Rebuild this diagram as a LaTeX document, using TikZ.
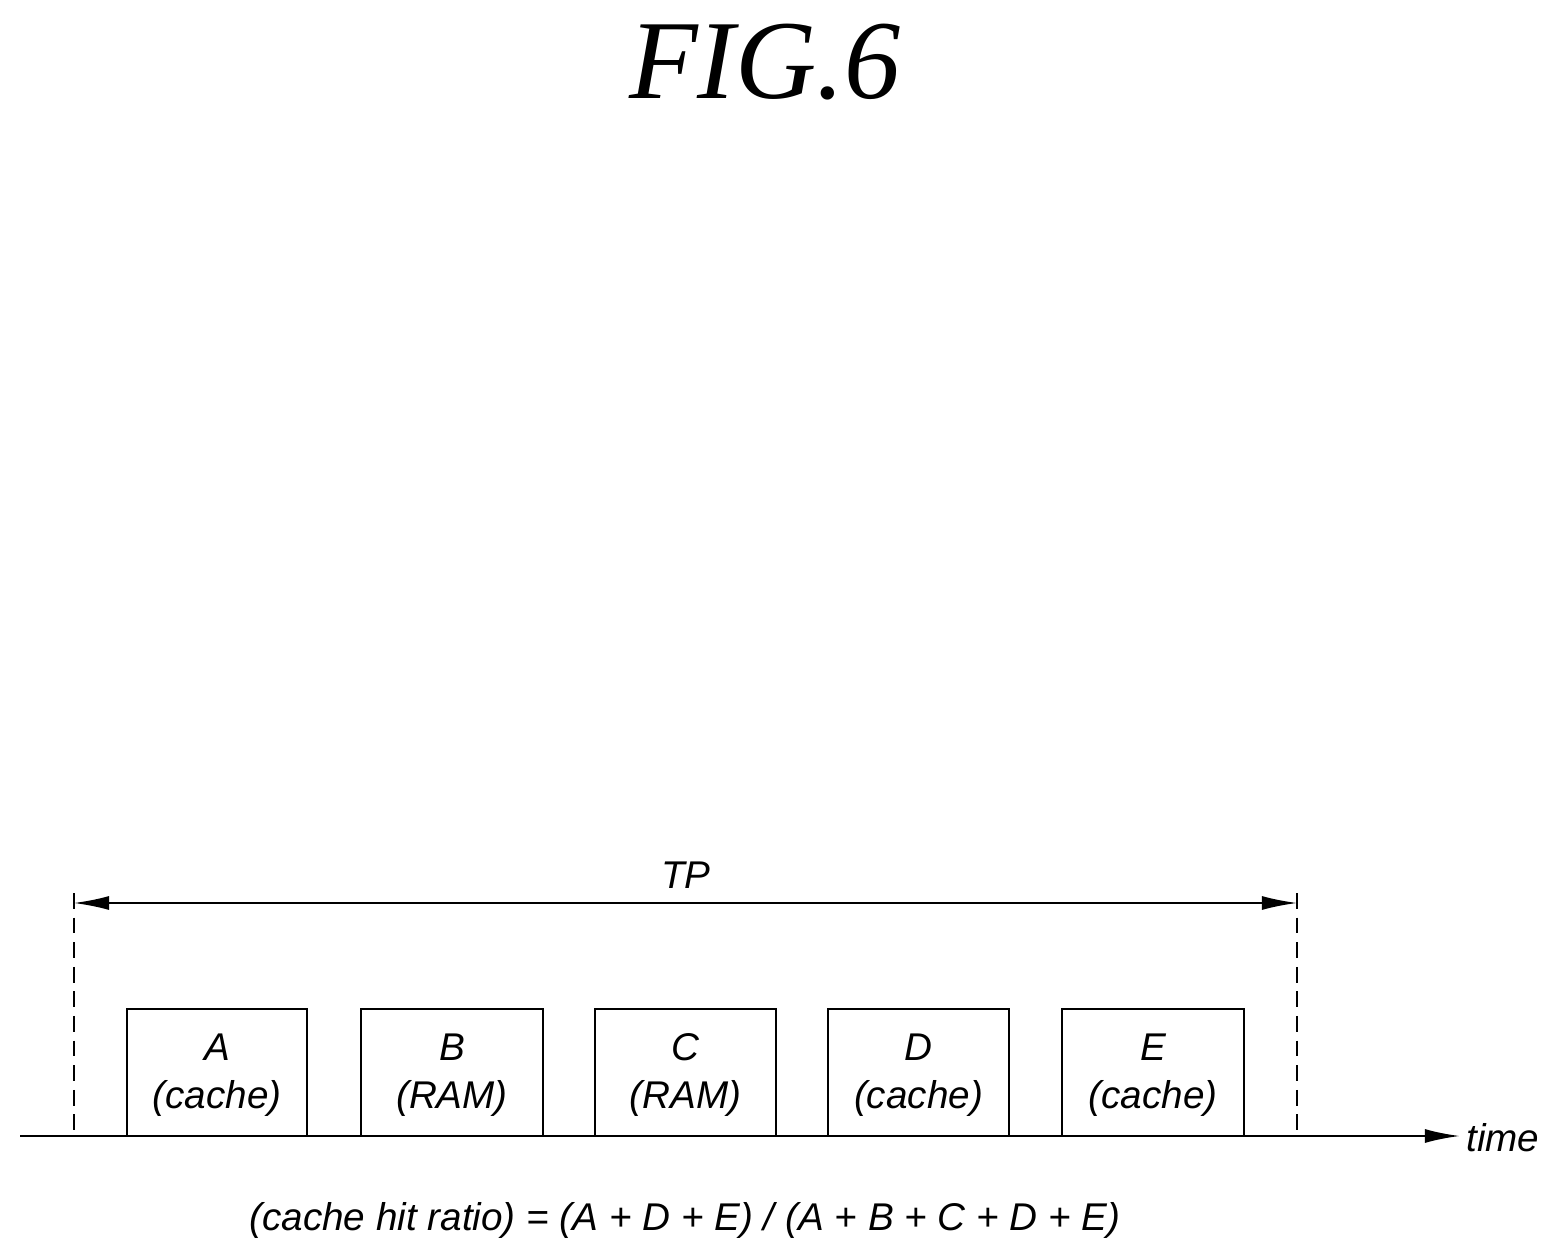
\documentclass[tikz,border=0pt]{standalone}
\usepackage{fontspec}
\setsansfont{Liberation Sans}
\newfontfamily\titlefont{Liberation Serif}
\usetikzlibrary{arrows.meta}
\begin{document}
\begin{tikzpicture}[x=0.02cm,y=-0.02cm,
  lbl/.style={font=\sffamily\itshape\fontsize{22}{27}\selectfont,align=center,inner sep=0},
  box/.style={draw,line width=1.4pt},
  arr/.style={-{Latex[length=20pt,width=8pt]},line width=1pt}]
\useasboundingbox (0,0) rectangle (1563,1260);
\node[inner sep=0,font=\titlefont\itshape\fontsize{64}{70}\selectfont] (title) at (765,62) {FIG.6};
\coordinate (ax0) at (20,1136);
\coordinate (ax1) at (1460,1136);
\draw[arr,line width=1.4pt] (ax0) -- (ax1);
\node[lbl,anchor=west] (time) at (1466,1138) {time};
\coordinate (dl0) at (74,893); \coordinate (dl1) at (74,1136);
\coordinate (dr0) at (1297,893); \coordinate (dr1) at (1297,1136);
\draw[dashed,line width=0.6pt,dash pattern=on 9pt off 5pt] (dl0) -- (dl1);
\draw[dashed,line width=0.6pt,dash pattern=on 9pt off 5pt] (dr0) -- (dr1);
\coordinate (tpl) at (74,903); \coordinate (tpr) at (1297,903);
\draw[{Latex[length=20pt,width=8pt]}-{Latex[length=20pt,width=8pt]},line width=1pt] (tpl) -- (tpr);
\node[lbl] (tp) at (686,875) {TP};
\foreach \n/\a/\b/\t in {a/127/307/{A\\(cache)},b/361/543/{B\\(RAM)},c/595/776/{C\\(RAM)},d/828/1009/{D\\(cache)},e/1062/1244/{E\\(cache)}}{
  \draw[box] (\a,1136) -- (\a,1009) -- (\b,1009) -- (\b,1136);
  \node[lbl] (\n) at ({(\a+\b)/2},1075) {\t};
}
\node[lbl] (formula) at (685,1220) {(cache hit ratio) = (A + D + E) / (A + B + C + D + E)};
\end{tikzpicture}
\end{document}
